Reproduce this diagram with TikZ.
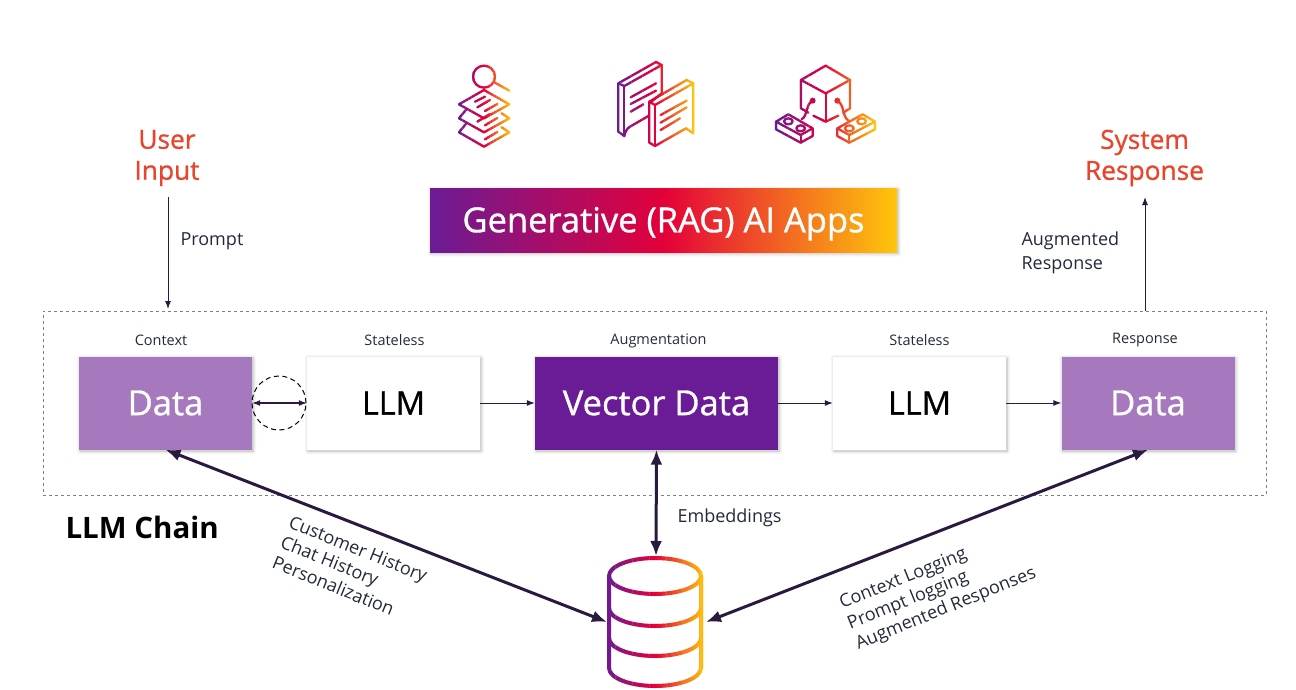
\documentclass[tikz,border=0pt]{standalone}
\usepackage{fontspec}
\setmainfont{Open Sans}
\newfontfamily\semifont{Open Sans}[RawFeature={embolden=0.9}]
\usetikzlibrary{arrows.meta,shadows.blur}
\definecolor{appPurple}{HTML}{6A1B96}
\definecolor{appLilac}{HTML}{A678BE}
\definecolor{appCrimson}{HTML}{E4003A}
\definecolor{appYellow}{HTML}{FFC60B}
\definecolor{appRed}{HTML}{E8452C}
\definecolor{appInk}{HTML}{2A1A40}
\definecolor{appText}{HTML}{222A3A}
\tikzset{
	softshadow/.style={blur shadow={shadow xshift=1pt, shadow yshift=-1.5pt, shadow blur radius=3.5pt, shadow blur steps=6, shadow opacity=30}},
	box/.style={minimum height=93, inner sep=0, softshadow, font=\semifont\fontsize{34.5}{34.5}\selectfont},
	plainbox/.style={box, fill=white, text=black, minimum width=173},
	lilacbox/.style={box, fill=appLilac, text=white, minimum width=173},
	darkbox/.style={box, fill=appPurple, text=white, minimum width=243},
	caption/.style={font=\fontsize{14.5}{16}\selectfont, text=appText},
	note/.style={font=\fontsize{18}{23.5}\selectfont, text=appText, align=left},
	slantnote/.style={font=\fontsize{18}{21.8}\selectfont, text=appText, align=left},
	title/.style={font=\semifont\fontsize{26.3}{31}\selectfont, text=appRed, align=center},
	thinline/.style={draw=appInk, line width=1, -{Latex[length=8, width=6]}},
	thinboth/.style={draw=appInk, line width=1.1, {Latex[length=8, width=6]}-{Latex[length=8, width=6]}},
	thickboth/.style={draw=appInk, line width=3, {Latex[length=15, width=12]}-{Latex[length=15, width=12]}},
	gradline/.style={draw=slice, line width=2.3, line join=round, line cap=round, fill=none},
	gradpipe/.style={draw=slice, line width=4, fill=none},
	icon/.style={shift={(440,50)}, x=0.33333pt, y=-0.33333pt}
}
% one stroke gradient: the drawing is repeated in narrow clipped slices
\newcommand{\gradstroke}[5]{%
	\foreach \k in {1,...,36}{%
		\pgfmathsetmacro{\xa}{#1+(#2-#1)*(\k-1)/36}
		\pgfmathsetmacro{\xb}{#1+(#2-#1)*\k/36+0.3}
		\pgfmathtruncatemacro{\pct}{abs(\k-18.5)*100/17.5}
		\ifnum\k<19
			\colorlet{slice}{appPurple!\pct!appCrimson}
		\else
			\colorlet{slice}{appYellow!\pct!appCrimson}
		\fi
		\begin{scope}
			\clip (\xa,#3) rectangle (\xb,#4);
			#5
		\end{scope}
	}%
}
\newcommand{\iconsearch}{%
	\begin{scope}[icon]
		\draw[gradline] (132,80) circle (33);
		\draw[gradline] (165,98) -- (208,122);
		\draw[gradline] (132,120) -- (208,163) -- (132,205) -- (57,163) -- cycle;
		\draw[gradline] (80,177) -- (57,205) -- (132,247) -- (208,205) -- (185,190);
		\draw[gradline] (80,219) -- (57,247) -- (132,290) -- (208,247) -- (185,232);
		\draw[gradline] (105,155) -- (135,140);
		\draw[gradline] (112,172) -- (150,150);
		\draw[gradline] (135,183) -- (172,162);
		\draw[gradline] (112,215) -- (150,192);
		\draw[gradline] (135,226) -- (172,204);
		\draw[gradline] (135,268) -- (172,246);
	\end{scope}
}
\newcommand{\iconchat}{%
	\begin{scope}[icon]
		\draw[gradline] (628,160) -- (665,130) -- (665,45) -- (648,36) -- (535,100) -- (535,245) -- (553,258) .. controls (556,245) and (560,236) .. (570,230) -- (627,197);
		\draw[gradline] (535,100) -- (553,108) -- (665,45);
		\draw[gradline] (553,108) -- (553,258);
		\draw[gradline] (572,142) -- (648,100);
		\draw[gradline] (572,162) -- (648,122);
		\draw[gradline] (572,185) -- (610,163);
		\draw[gradline] (628,155) -- (740,90) -- (760,100) -- (760,250) -- (738,235) -- (645,288) -- (628,278) -- cycle;
		\draw[gradline] (628,155) -- (645,165) -- (760,100);
		\draw[gradline] (645,165) -- (645,288);
		\draw[gradline] (662,195) -- (740,152);
		\draw[gradline] (662,218) -- (740,172);
		\draw[gradline] (662,240) -- (720,205);
	\end{scope}
}
\newcommand{\iconcube}{%
	\begin{scope}[icon]
		\draw[gradline] (1157,47) -- (1230,90) -- (1157,130) -- (1083,90) -- cycle;
		\draw[gradline] (1083,90) -- (1083,175) -- (1105,188);
		\draw[gradline] (1120,197) -- (1157,215) -- (1195,197);
		\draw[gradline] (1210,188) -- (1230,175) -- (1230,90);
		\draw[gradline] (1157,130) -- (1157,215);
		\fill[slice] (1118,152) circle (9);
		\fill[slice] (1192,152) circle (9);
		\draw[gradline] (1118,152) .. controls (1095,165) and (1105,195) .. (1085,208);
		\draw[gradline] (1192,152) .. controls (1215,165) and (1205,200) .. (1227,213);
		\draw[gradline] (1045,193) -- (1118,235) -- (1082,255) -- (1008,215) -- cycle;
		\draw[gradline] (1008,215) -- (1008,238) -- (1082,278) -- (1118,258) -- (1118,235);
		\draw[gradline] (1082,255) -- (1082,278);
		\draw[gradline] (1045,214) ellipse (13 and 9);
		\draw[gradline] (1082,235) ellipse (13 and 9);
		\draw[gradline] (1268,193) -- (1305,215) -- (1228,255) -- (1192,235) -- cycle;
		\draw[gradline] (1192,235) -- (1192,258) -- (1228,278) -- (1305,238) -- (1305,215);
		\draw[gradline] (1228,255) -- (1228,278);
		\draw[gradline] (1265,214) ellipse (13 and 9);
		\draw[gradline] (1228,235) ellipse (13 and 9);
	\end{scope}
}
\newcommand{\iconstore}{%
	\draw[gradpipe] (655,576) ellipse (46 and 18);
	\draw[gradpipe] (609,576) -- (609,668) arc (180:0:46 and 18) -- (701,576);
	\draw[gradpipe] (609,608) arc (180:0:46 and 18);
	\draw[gradpipe] (609,638) arc (180:0:46 and 18);
}
\begin{document}
\begin{tikzpicture}[x=1pt, y=-1pt]
	\useasboundingbox (0,0) rectangle (1296,690);
	% icons and banner
	\gradstroke{458}{511}{55}{150}{\iconsearch}
	\gradstroke{616}{695}{55}{150}{\iconchat}
	\gradstroke{774}{877}{55}{150}{\iconcube}
	\node[minimum width=467, minimum height=64, inner sep=0, text height=24.5pt, text depth=0pt, softshadow, left color=appPurple, right color=appYellow, middle color=appCrimson, text=white, font=\semifont\fontsize{34.5}{34.5}\selectfont] (banner) at (663.5,220){Generative (RAG) AI Apps};
	% chain frame
	\node[draw=gray, dashed, line width=0.7, minimum width=1223, minimum height=184, inner sep=0] (frame) at (654.5,403){};
	\node[lilacbox] (dataa) at (165.5,403){Data};
	\node[plainbox, font=\semifont\fontsize{32.5}{32.5}\selectfont] (llma) at (393.5,403){LLM};
	\node[darkbox] (vector) at (656.5,403){Vector Data};
	\node[plainbox, font=\semifont\fontsize{32.5}{32.5}\selectfont] (llmb) at (919.5,403){LLM};
	\node[lilacbox] (datab) at (1148,403){Data};
	\begin{scope} [every node/.style={caption}]
		\node (capa) at (161,340.5){Context};
		\node (capb) at (394.5,340.5){Stateless};
		\node (capc) at (658.5,340.5){Augmentation};
		\node (capd) at (919.5,340.5){Stateless};
		\node (cape) at (1145,340.5){Response};
	\end{scope}
	\node[draw=black, dash pattern=on 5 off 3.5, line width=1, circle, minimum size=54, inner sep=0] (loop) at (279,403){};
	% titles
	\node[title] (user) at (167,158){User\\Input};
	\node[title] (system) at (1144.5,158){System\\Response};
	\node[note, anchor=west] (prompt) at (177,241){Prompt};
	\node[note, anchor=west] (augresp) at (1018,253){Augmented\\Response};
	\node[anchor=west, text=black, font=\bfseries\fontsize{29.5}{29.5}\selectfont] (chain) at (62,527){LLM Chain};
	\node[note, anchor=west] (embed) at (674,518){Embeddings};
	\node[slantnote, rotate=-22] (leftnote) at (350,569){Customer History\\Chat History\\Personalization};
	\node[slantnote, rotate=22] (rightnote) at (938,589){Context Logging\\Prompt logging\\Augmented Responses};
	% store
	\gradstroke{604}{706}{552}{690}{\iconstore}
	\coordinate (storel) at (607,622);
	\coordinate (storer) at (706,622);
	\coordinate (storet) at (656,556);
	\coordinate (promptend) at (168,197);
	\coordinate (frametop) at (168,309);
	\coordinate (respstart) at (1145,311);
	\coordinate (respend) at (1145,197);
	% connectors
	\draw[thinline] (promptend) -- (frametop);
	\draw[thinline] (respstart) -- (respend);
	\draw[thinboth] (dataa.east) -- (llma.west);
	\draw[thinline] (llma.east) -- (vector.west);
	\draw[thinline] (vector.east) -- (llmb.west);
	\draw[thinline] (llmb.east) -- (datab.west);
	\draw[thickboth] (dataa.south) -- (storel);
	\draw[thickboth] (vector.south) -- (storet);
	\draw[thickboth] (datab.south) -- (storer);
\end{tikzpicture}
\end{document}
